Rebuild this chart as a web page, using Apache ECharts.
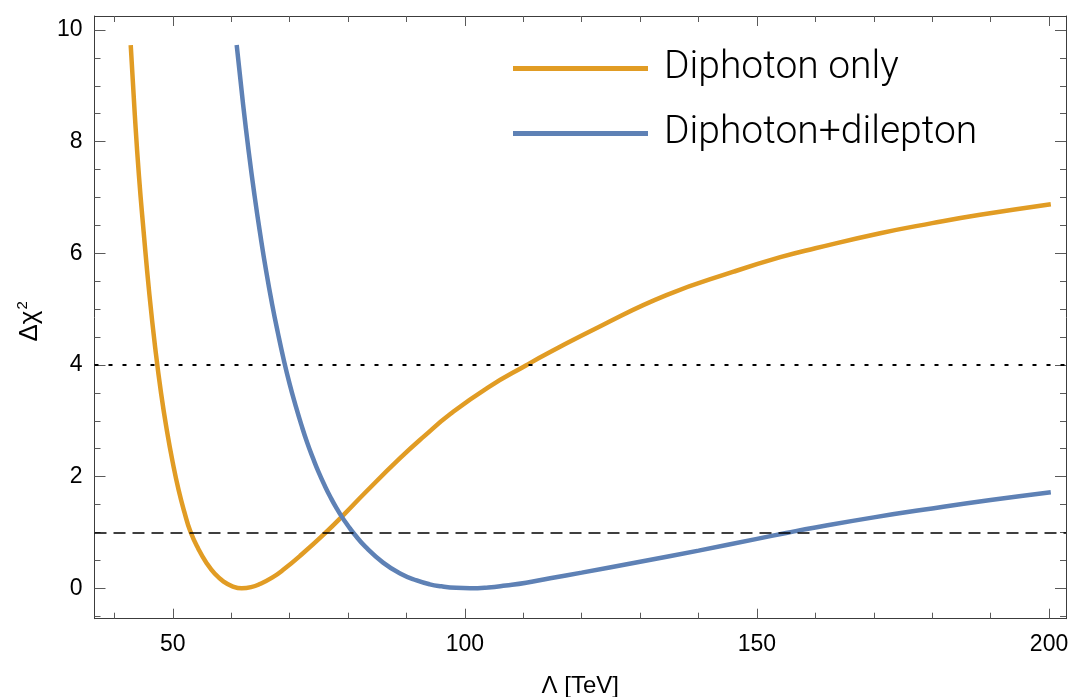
<!DOCTYPE html>
<html>
<head>
<meta charset="utf-8">
<script src="https://cdn.jsdelivr.net/npm/echarts@6/dist/echarts.min.js"></script>
<style>
  html, body { margin: 0; padding: 0; background: #ffffff; overflow: hidden; }
  #chart { width: 1071px; height: 697px; }
</style>
</head>
<body>
<div id="chart"></div>
<script>
// Δχ² profiles versus the scale Λ (TeV)
const seriesNames = ['Diphoton only', 'Diphoton+dilepton'];

const lambdaDiphoton = [42.8, 43.5, 44.2, 45.0, 46.0, 47.0, 48.0, 49.0, 50.0, 51.0, 52.0, 53.0, 54.4, 55.8, 57.2, 58.7, 60.2, 61.8, 63.4, 65.0, 67.0, 68.9, 72.0, 76.2, 79.2, 83.0, 88.9, 93.0, 97.5, 104.0, 110.6, 114.6, 123.1, 134.5, 146.0, 154.0, 160.0, 171.1, 180.0, 188.2, 200.3];
const chi2Diphoton   = [9.73, 8.48, 7.40, 6.40, 5.26, 4.30, 3.49, 2.82, 2.25, 1.76, 1.36, 1.02, 0.70, 0.45, 0.26, 0.12, 0.035, 0.0, 0.02, 0.08, 0.19, 0.33, 0.60, 1.00, 1.31, 1.72, 2.33, 2.72, 3.12, 3.60, 4.00, 4.23, 4.69, 5.25, 5.67, 5.93, 6.09, 6.36, 6.54, 6.69, 6.88];

const lambdaCombined = [60.94, 62.0, 63.0, 64.0, 65.0, 66.0, 67.0, 68.0, 69.0, 70.0, 71.0, 72.0, 73.0, 74.0, 75.0, 76.0, 77.0, 78.0, 79.0, 80.0, 81.0, 83.0, 86.0, 89.0, 91.75, 94.0, 96.0, 98.5, 100.9, 104.0, 107.0, 110.5, 114.6, 120.0, 130.0, 140.0, 150.0, 155.0, 160.0, 170.0, 180.0, 190.0, 200.3];
const chi2Combined   = [9.73, 8.70, 7.82, 7.03, 6.32, 5.67, 5.09, 4.57, 4.09, 3.66, 3.28, 2.93, 2.61, 2.33, 2.07, 1.84, 1.63, 1.44, 1.27, 1.12, 0.98, 0.74, 0.46, 0.26, 0.14, 0.07, 0.035, 0.008, 0.0, 0.015, 0.05, 0.10, 0.18, 0.28, 0.475, 0.675, 0.885, 0.99, 1.09, 1.27, 1.43, 1.58, 1.72];

const xMajorTicks = [50, 100, 150, 200];
const xMinorTicks = [40, 60, 70, 80, 90, 110, 120, 130, 140, 160, 170, 180, 190];
const yMajorTicks = [0, 2, 4, 6, 8, 10];
const yMinorTicks = [-0.5, 0.5, 1, 1.5, 2.5, 3, 3.5, 4.5, 5, 5.5, 6.5, 7, 7.5, 8.5, 9, 9.5];

const dottedLevel = 4;
const dashedLevel = 1;

const xRange = [36.6, 202.9];
const yRange = [-0.545, 10.25];

const ORANGE = '#E19C24';
const BLUE = '#5E81B5';
const FONT = '"Liberation Sans", Arial, sans-serif';

function frameAxis(position, range, ticks, tickLen, showLine, labelOpts) {
  return {
    type: 'value',
    position: position,
    min: range[0],
    max: range[1],
    axisLine: { show: showLine, onZero: false, lineStyle: { color: '#3c3c3c', width: 1 } },
    axisTick: { show: true, inside: true, length: tickLen, customValues: ticks,
                lineStyle: { color: '#5a5a5a', width: 1 } },
    axisLabel: labelOpts ? Object.assign({ show: true, customValues: ticks }, labelOpts) : { show: false },
    splitLine: { show: false },
    minorTick: { show: false },
    minorSplitLine: { show: false }
  };
}

const xLabelStyle = { color: '#000', fontFamily: FONT, fontSize: 23, margin: 14 };
const yLabelStyle = { color: '#000', fontFamily: FONT, fontSize: 23, margin: 12 };

const xAxes = [
  Object.assign(frameAxis('bottom', xRange, xMajorTicks, 10, true, xLabelStyle), {
    name: 'Λ [TeV]',
    nameLocation: 'middle',
    nameGap: 56,
    nameTextStyle: { color: '#000', fontFamily: FONT, fontSize: 24 }
  }),
  frameAxis('bottom', xRange, xMinorTicks, 6, false, null),
  frameAxis('top', xRange, xMajorTicks, 10, true, null),
  frameAxis('top', xRange, xMinorTicks, 6, false, null)
];

const yAxes = [
  Object.assign(frameAxis('left', yRange, yMajorTicks, 11, true, yLabelStyle), {
    name: 'Δχ{sup|2}',
    nameLocation: 'middle',
    nameGap: 51,
    nameRotate: 90,
    nameTextStyle: {
      color: '#000', fontFamily: FONT, fontSize: 26, padding: [0, 8, 0, 0],
      rich: { sup: { fontFamily: FONT, fontSize: 15, verticalAlign: 'top', color: '#000', padding: [0, 0, 13, 1] } }
    }
  }),
  frameAxis('left', yRange, yMinorTicks, 6, false, null),
  frameAxis('right', yRange, yMajorTicks, 11, true, null),
  frameAxis('right', yRange, yMinorTicks, 6, false, null)
];

function pairs(xs, ys) {
  return xs.map(function (x, i) { return [x, ys[i]]; });
}

const option = {
  backgroundColor: '#ffffff',
  animation: false,
  grid: { left: 94.5, top: 16, width: 971.5, height: 602.7, containLabel: false, outerBoundsMode: 'none' },
  legend: {
    orient: 'vertical',
    left: 508,
    top: 41,
    icon: 'rect',
    itemWidth: 135,
    itemHeight: 5,
    itemGap: 20,
    data: seriesNames,
    textStyle: { color: '#000', fontFamily: 'Roboto, "Liberation Sans", sans-serif', fontWeight: 300,
                 fontSize: 39, lineHeight: 45, padding: [0, 0, 0, 11] }
  },
  xAxis: xAxes,
  yAxis: yAxes,
  series: [
    {
      name: seriesNames[0],
      type: 'line',
      data: pairs(lambdaDiphoton, chi2Diphoton),
      smooth: 0.5,
      showSymbol: false,
      symbol: 'none',
      lineStyle: { color: ORANGE, width: 4.5 },
      itemStyle: { color: ORANGE },
      z: 3
    },
    {
      name: seriesNames[1],
      type: 'line',
      data: pairs(lambdaCombined, chi2Combined),
      smooth: 0.5,
      showSymbol: false,
      symbol: 'none',
      lineStyle: { color: BLUE, width: 4.5 },
      itemStyle: { color: BLUE },
      z: 3
    },
    {
      name: 'levels',
      type: 'line',
      data: [],
      silent: true,
      z: 4,
      markLine: {
        silent: true,
        symbol: ['none', 'none'],
        label: { show: false },
        animation: false,
        data: [
          { yAxis: dottedLevel, lineStyle: { color: '#000', width: 2, type: [4, 10] } },
          { yAxis: dashedLevel, lineStyle: { color: '#000', width: 1.6, type: [12, 7] } }
        ]
      }
    }
  ]
};

const chart = echarts.init(document.getElementById('chart'), null, { renderer: 'canvas' });
chart.setOption(option);
</script>
</body>
</html>
